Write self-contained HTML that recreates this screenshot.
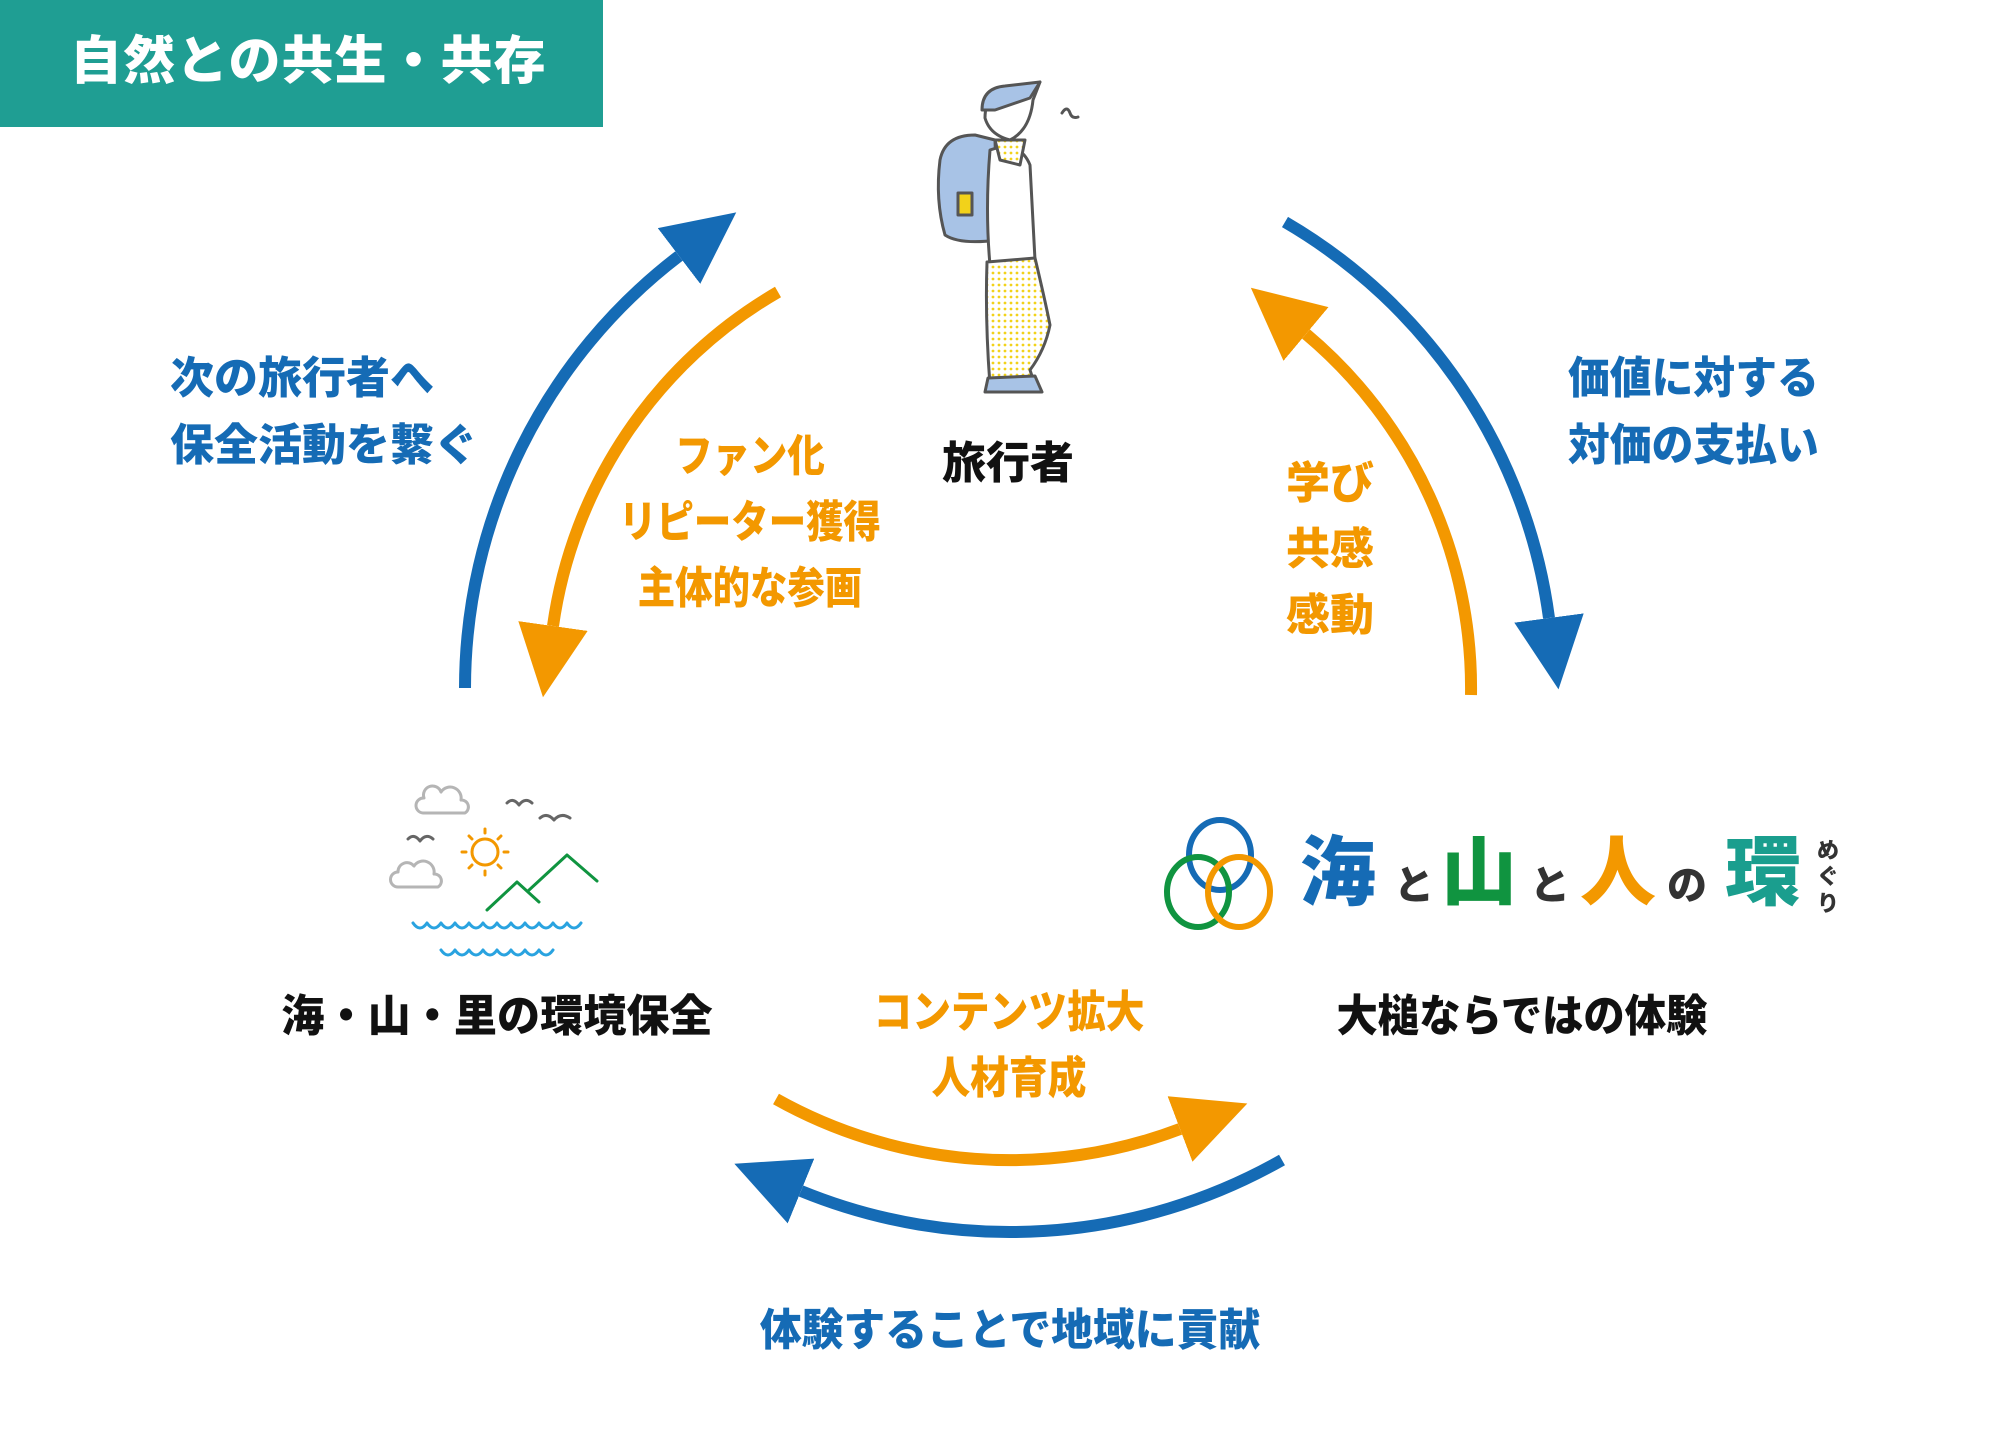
<!DOCTYPE html>
<html><head><meta charset="utf-8"><style>
html,body{margin:0;padding:0;background:#fff;}
body{width:2000px;height:1440px;position:relative;overflow:hidden;font-family:"Liberation Sans","Noto Sans CJK JP",sans-serif;font-weight:900;}
.t{position:absolute;white-space:nowrap;line-height:1;font-weight:900;transform-origin:0 0;}
.c{transform-origin:50% 0;text-align:center;}
.b{color:#156bb5}.o{color:#f39800}.k{color:#111}
</style></head><body>
<div style="position:absolute;left:0;top:0;width:603px;height:127px;background:#1f9e93"></div>
<div class="t" style="left:70px;top:36px;font-size:52px;color:#fff;letter-spacing:1px">自然との共生・共存</div>

<svg width="2000" height="1440" style="position:absolute;left:0;top:0">
<defs>
<marker id="hb" markerUnits="userSpaceOnUse" markerWidth="80" markerHeight="80" refX="0" refY="35" orient="auto" viewBox="0 0 80 70"><path d="M0,0 L72,35 L0,70 Z" fill="#156bb5"/></marker>
<marker id="ho" markerUnits="userSpaceOnUse" markerWidth="80" markerHeight="80" refX="0" refY="35" orient="auto" viewBox="0 0 80 70"><path d="M0,0 L72,35 L0,70 Z" fill="#f39800"/></marker>
</defs>
<g fill="none" stroke-width="12">
<path d="M465,688 A544,544 0 0 1 679,256" stroke="#156bb5" marker-end="url(#hb)"/>
<path d="M778,292 A460,460 0 0 0 553,626" stroke="#f39800" marker-end="url(#ho)"/>
<path d="M1285,222 A541,541 0 0 1 1549,618" stroke="#156bb5" marker-end="url(#hb)"/>
<path d="M1471,695 A462,462 0 0 0 1306,334" stroke="#f39800" marker-end="url(#ho)"/>
<path d="M776,1099 A479,479 0 0 0 1180,1129" stroke="#f39800" marker-end="url(#ho)"/>
<path d="M1282,1160 A551,551 0 0 1 801,1191" stroke="#156bb5" marker-end="url(#hb)"/>
</g>

<!-- traveler -->
<defs><pattern id="dots" width="6" height="6" patternUnits="userSpaceOnUse"><rect width="6" height="6" fill="#fff"/><circle cx="3" cy="3" r="1.4" fill="#f2d21a"/></pattern></defs>
<g stroke="#555" stroke-width="3" stroke-linecap="round" stroke-linejoin="round">
<path d="M940,160 Q945,135 975,135 L995,140 L998,240 Q960,245 945,235 Q935,200 940,160Z" fill="#a8c3e6"/>
<rect x="958" y="193" width="14" height="22" fill="#f2d21a"/>
<path d="M990,150 Q1020,140 1030,165 L1035,260 L990,265 Q985,210 990,150Z" fill="#fff"/>
<path d="M995,140 L1025,140 L1020,165 L1000,160Z" fill="url(#dots)"/>
<path d="M987,262 L1035,258 Q1045,300 1050,325 Q1045,350 1030,370 L1035,385 L990,385 Q985,320 987,262Z" fill="url(#dots)"/>
<path d="M988,378 L1035,376 L1042,392 L985,392Z" fill="#a8c3e6"/>
<path d="M985,118 Q985,92 1010,88 Q1030,90 1040,82 L1033,100 Q1030,130 1010,140 Q990,135 985,118Z" fill="#fff"/>
<path d="M982,110 Q982,88 1005,86 L1040,82 L1030,98 L995,110Z" fill="#a8c3e6"/>
<path d="M1062,113 q5,-8 8,0 q2,6 8,4" fill="none"/>
</g>

<!-- landscape -->
<g fill="none" stroke-width="3" stroke-linecap="round" stroke-linejoin="round">
<path d="M423,813 h42 a7,7 0 0 0 -4,-13 a11,11 0 0 0 -20,-8 a9,9 0 0 0 -17,6 a7,7 0 0 0 -1,15z" stroke="#b5b5b5"/>
<path d="M398,887 h40 a7,7 0 0 0 -4,-13 a11,11 0 0 0 -20,-8 a9,9 0 0 0 -16,6 a7,7 0 0 0 0,15z" stroke="#b5b5b5"/>
<path d="M507,803 q6,-6 12,2 q6,-8 13,-2 M540,818 q7,-6 14,2 q7,-8 16,-2 M408,839 q6,-6 12,2 q6,-8 13,-2" stroke="#666"/>
<circle cx="485" cy="852" r="13" stroke="#f39800"/>
<path d="M485,829v4M485,871v4M462,852h4M504,852h4M469,836l3,3M498,865l3,3M469,868l3,-3M498,839l3,-3" stroke="#f39800"/>
<path d="M487,910 L517,882 L539,902 M528,891 L567,855 L597,881" stroke="#109440"/>
<path d="M413,923 q7,10 14,0 q7,10 14,0 q7,10 14,0 q7,10 14,0 q7,10 14,0 q7,10 14,0 q7,10 14,0 q7,10 14,0 q7,10 14,0 q7,10 14,0 q7,10 14,0 q7,10 14,0" stroke="#29a3e0"/>
<path d="M441,950 q7,10 14,0 q7,10 14,0 q7,10 14,0 q7,10 14,0 q7,10 14,0 q7,10 14,0 q7,10 14,0 q7,10 14,0" stroke="#29a3e0"/>
</g>

<!-- logo rings -->
<g fill="none" stroke-width="6">
<ellipse cx="1220" cy="855" rx="31" ry="35" stroke="#156bb5"/>
<ellipse cx="1198" cy="892" rx="31" ry="35" stroke="#109440"/>
<ellipse cx="1239" cy="892" rx="31" ry="35" stroke="#f39800"/>
</g>
</svg>

<div class="t" style="left:1300px;top:836px;font-size:76px;color:#156bb5">海</div>
<div class="t" style="left:1394px;top:866px;font-size:40px;color:#333">と</div>
<div class="t" style="left:1441px;top:836px;font-size:76px;color:#109440">山</div>
<div class="t" style="left:1530px;top:866px;font-size:40px;color:#333">と</div>
<div class="t" style="left:1580px;top:836px;font-size:76px;color:#f39800">人</div>
<div class="t" style="left:1667px;top:866px;font-size:40px;color:#333">の</div>
<div class="t" style="left:1725px;top:836px;font-size:76px;color:#1a9e8e">環</div>
<div class="t" style="left:1817px;top:838px;font-size:22px;color:#333;line-height:1.2;width:24px;white-space:normal">めぐり</div>

<div class="t k c" style="left:1008px;top:442px;font-size:44px;transform:translateX(-50%)">旅行者</div>
<div class="t b" style="left:170px;top:345px;font-size:44px;line-height:67px">次の旅行者へ<br>保全活動を繋ぐ</div>
<div class="t o c" style="left:750px;top:424px;font-size:44px;line-height:66px;transform:translateX(-50%) scaleX(0.85)">ファン化<br>リピーター獲得<br>主体的な参画</div>
<div class="t o" style="left:1286px;top:451px;font-size:44px;line-height:66px">学び<br>共感<br>感動</div>
<div class="t b" style="left:1568px;top:345px;font-size:44px;line-height:67px;transform:scaleX(0.95)">価値に対する<br>対価の支払い</div>
<div class="t k c" style="left:497px;top:995px;font-size:44px;transform:translateX(-50%) scaleX(0.98)">海・山・里の環境保全</div>
<div class="t k c" style="left:1522px;top:995px;font-size:44px;transform:translateX(-50%) scaleX(0.94)">大槌ならではの体験</div>
<div class="t o c" style="left:1009px;top:980px;font-size:44px;line-height:66px;transform:translateX(-50%) scaleX(0.88)">コンテンツ拡大<br>人材育成</div>
<div class="t b c" style="left:1010px;top:1309px;font-size:44px;transform:translateX(-50%) scaleX(0.95)">体験することで地域に貢献</div>
</body></html>
